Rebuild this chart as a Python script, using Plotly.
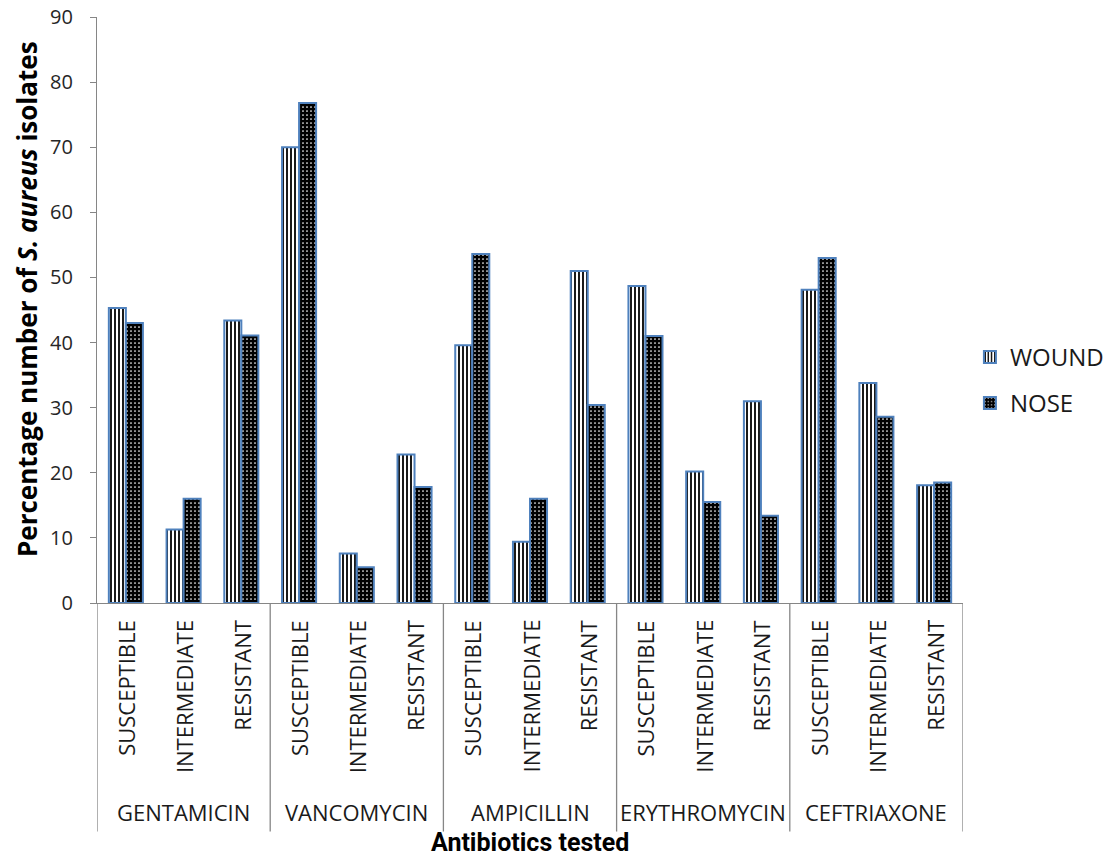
import plotly.graph_objects as go

# Antibiotics and susceptibility outcomes
antibiotics = ["GENTAMICIN", "VANCOMYCIN", "AMPICILLIN", "ERYTHROMYCIN", "CEFTRIAXONE"]
outcomes = ["SUSCEPTIBLE", "INTERMEDIATE", "RESISTANT"]

# Percentage of S. aureus isolates per antibiotic/outcome (antibiotic-major order)
wound = [45.3, 11.3, 43.4,
         70.0, 7.6, 22.8,
         39.6, 9.4, 51.0,
         48.7, 20.2, 31.0,
         48.1, 33.8, 18.1]
nose = [43.0, 16.0, 41.1,
        76.8, 5.5, 17.8,
        53.6, 16.0, 30.4,
        41.0, 15.5, 13.4,
        53.0, 28.6, 18.5]

y_ticks = [0, 10, 20, 30, 40, 50, 60, 70, 80, 90]

FONT = "Open Sans"
TITLE_FONT = "Roboto"
AXIS_GREY = "#868686"
EDGE_BLUE = "#4F81BD"
TEXT = "#1a1a1a"

n_out = len(outcomes)
positions = list(range(len(antibiotics) * n_out))
sub_labels = [outcomes[i % n_out] for i in positions]

fig = go.Figure()
fig.add_trace(go.Bar(
    x=positions, y=wound, name="WOUND",
    legendgroup="wound",
    marker=dict(
        color="white",
        line=dict(color=EDGE_BLUE, width=2),
        pattern=dict(shape="|", fgcolor="black", bgcolor="white",
                     size=4, solidity=0.45, fillmode="replace"),
    ),
))
fig.add_trace(go.Bar(
    x=positions, y=nose, name="NOSE",
    legendgroup="nose",
    marker=dict(
        color="black",
        line=dict(color=EDGE_BLUE, width=2),
        pattern=dict(shape=".", fgcolor="white", bgcolor="black",
                     size=4, solidity=0.15, fillmode="replace"),
    ),
))

# Outcome labels under each category (rotated)
for p, lab in zip(positions, sub_labels):
    fig.add_annotation(
        x=p, xref="x", y=0, yref="paper",
        text=lab, textangle=-90, showarrow=False,
        yanchor="top", xanchor="center", yshift=-15,
        font=dict(family=FONT, size=22, color=TEXT),
    )

# Antibiotic group labels and divider lines
for g, name in enumerate(antibiotics):
    fig.add_annotation(
        x=g * n_out + (n_out - 1) / 2, xref="x", y=0, yref="paper",
        text=name, showarrow=False, yanchor="middle", yshift=-209,
        font=dict(family=FONT, size=22, color=TEXT),
    )
for g in range(len(antibiotics) + 1):
    xb = g * n_out - 0.5
    fig.add_shape(
        type="line", xref="x", yref="paper",
        x0=xb, x1=xb, y0=0, y1=-0.39,
        line=dict(color=AXIS_GREY, width=1.3),
    )

# Axis titles
fig.add_annotation(
    x=0.5, xref="paper", y=0, yref="paper",
    text="<b>Antibiotics tested</b>", showarrow=False,
    yanchor="middle", yshift=-239,
    font=dict(family=TITLE_FONT, size=25, color="black"),
)
fig.add_annotation(
    x=0, xref="paper", y=0.5, yref="paper",
    text="<b>Percentage number of <i>S. aureus</i> isolates</b>",
    textangle=-90, showarrow=False,
    xanchor="center", yanchor="middle", xshift=-70, yshift=11,
    font=dict(family=FONT, size=26, color="black"),
)

fig.update_layout(
    width=1108, height=857,
    margin=dict(l=97, r=145, t=17, b=254, autoexpand=False),
    paper_bgcolor="white", plot_bgcolor="white",
    barmode="group", bargap=0.41, bargroupgap=0,
    showlegend=True,
    legend=dict(
        x=1.008, xanchor="left", y=0.38, yanchor="middle",
        font=dict(family=FONT, size=24, color=TEXT),
        traceorder="grouped", tracegroupgap=12,
        itemwidth=30, bgcolor="rgba(0,0,0,0)",
    ),
    xaxis=dict(
        range=[-0.5, len(positions) - 0.5],
        showticklabels=False, ticks="",
        showline=True, linecolor=AXIS_GREY, linewidth=1.3,
        showgrid=False, zeroline=False, fixedrange=True,
        automargin=False,
    ),
    yaxis=dict(
        range=[0, 90], tickvals=y_ticks,
        ticks="outside", ticklen=6, tickcolor=AXIS_GREY, tickwidth=1.3,
        ticklabelstandoff=13,
        showline=True, linecolor=AXIS_GREY, linewidth=1.3,
        showgrid=False, zeroline=False,
        tickfont=dict(family=FONT, size=20, color="#262626"),
        fixedrange=True, automargin=False,
    ),
)

fig.write_html("out.html")
